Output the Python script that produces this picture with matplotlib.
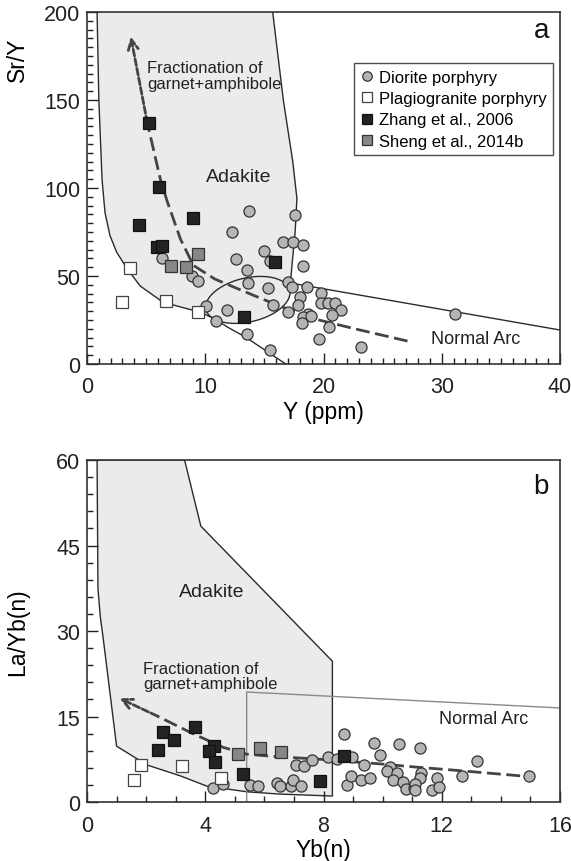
import numpy as np
import matplotlib.pyplot as plt
from matplotlib.ticker import MultipleLocator

plt.rcParams['font.family'] = ['Liberation Sans', 'DejaVu Sans']
plt.rcParams['lines.scale_dashes'] = False

# ---------------- (a) Sr/Y vs Y ----------------
dio_a_y = [6.3, 8.9, 9.4, 10.1, 10.9, 11.8, 12.3, 12.6, 13.5, 13.6, 13.7, 13.5,
           15.0, 15.5, 15.3, 15.7, 15.5, 16.6, 17.4, 18.3, 17.6, 18.3, 17.0, 17.3,
           18.6, 18.0, 17.8, 17.0, 18.7, 18.3, 18.9, 18.2, 19.8, 19.8, 20.4, 21.0,
           21.5, 20.7, 20.5, 19.6, 23.2, 31.1]
dio_a_sry = [60, 50, 47, 33, 24.4, 30.7, 75, 59.7, 53.4, 46, 87, 17,
             64, 58.5, 43, 33.5, 8, 69.3, 69.3, 67.6, 84.7, 55.7, 46.6, 43.8,
             43.8, 38, 33.5, 29.5, 28.4, 26.7, 27.3, 23.3, 40.3, 34.7, 34.7, 34.7,
             30.7, 27.8, 21, 14.2, 9.7, 28.4]
plg_a_y = [3.6, 3.0, 6.7, 9.4]
plg_a_sry = [54.5, 35, 36, 29.5]
zhang_a_y = [5.2, 6.1, 4.4, 9.0, 5.9, 6.35, 15.9, 13.3]
zhang_a_sry = [137, 100.6, 79, 83, 66.5, 67, 58, 26.5]
sheng_a_y = [9.4, 7.1, 8.4]
sheng_a_sry = [62.5, 55.7, 55]

# field boundaries (Defant and Drummond type diagram)
adk_a_left_x = [0.85, 1.0, 1.27, 1.52, 1.94, 2.5, 3.4, 4.5, 6.4, 7.9, 9.55, 10.65,
                12.0, 13.4, 16.8]
adk_a_left_y = [200, 150, 105, 86, 73, 63.6, 54, 44.3, 35.2, 32.4, 29.5, 26.1,
                20.5, 15.3, 0]
adk_a_right_x = [15.7, 16.6, 17.4, 17.75, 17.6, 17.4, 17.2]
adk_a_right_y = [200, 150, 115, 94, 75, 61, 46]
arc_a_x = [17.2, 40]
arc_a_y = [46, 19.3]
# overlap ellipse: centre, semi-axes (in x units) and tilt
ell_cx, ell_cy = 13.6, 36.4
ell_a, ell_b, ell_tilt = 3.63, 1.86, 13

trend_a_x = [27.1, 22.7, 19.0, 16.5, 14.8, 12.8, 10.8, 9.0, 7.9, 6.8, 6.2, 5.1, 3.7]
trend_a_y = [13, 19.9, 26, 32.4, 37, 42.6, 48.3, 56, 71, 92, 105, 137, 186]

# ---------------- (b) La/Yb(n) vs Yb(n) ----------------
dio_b_yb = [4.26, 4.6, 5.5, 5.8, 6.43, 6.53, 6.9, 6.97, 7.24, 7.07, 7.34, 7.6,
            8.16, 8.45, 8.97, 8.7, 8.8, 8.93, 9.27, 9.57, 9.37, 9.7, 9.9, 10.55,
            10.25, 10.15, 10.5, 10.35, 10.7, 10.8, 11.06, 11.27, 11.3, 11.27, 11.1,
            11.1, 11.67, 11.85, 11.9, 12.7, 13.2, 14.95]
dio_b_layb = [2.5, 3.2, 3.0, 2.8, 3.3, 2.8, 2.8, 3.9, 2.8, 6.5, 6.3, 7.4,
              7.9, 7.5, 7.9, 11.9, 3.0, 4.6, 3.9, 4.2, 6.5, 10.4, 8.2, 10.2,
              6.1, 5.4, 5.1, 3.9, 3.5, 2.3, 2.5, 9.5, 5.1, 4.2, 3.2,
              2.1, 2.1, 4.2, 2.6, 4.6, 7.2, 4.6]
plg_b_yb = [1.83, 1.6, 3.2, 4.53]
plg_b_layb = [6.5, 3.9, 6.3, 4.2]
zhang_b_yb = [2.57, 2.94, 3.65, 2.4, 4.3, 4.13, 4.33, 5.28, 7.88, 8.7]
zhang_b_layb = [12.3, 10.9, 13.2, 9.1, 9.8, 8.9, 7.0, 4.9, 3.7, 8.1]
sheng_b_yb = [5.1, 5.85, 6.55]
sheng_b_layb = [8.4, 9.5, 8.8]

adk_b_x = [0.34, 3.3, 3.85, 8.3, 8.3, 6.5, 5.4, 4.05, 3.15, 2.03, 1.0, 0.55, 0.45, 0.37, 0.34]
adk_b_y = [60, 60, 48.4, 24.7, 1.05, 1.4, 1.8, 2.8, 4.6, 6.5, 9.8, 28.6, 32.5, 37.4, 60]
arc_b_x = [5.4, 5.4, 16]
arc_b_y = [0, 19.3, 16.5]

trend_b_x = [14.65, 12.4, 11.2, 9.9, 7.9, 6.3, 5.4, 4.6, 3.5, 2.37, 1.1]
trend_b_y = [4.6, 5.6, 6.1, 6.7, 7.5, 8.0, 8.4, 9.6, 12.2, 15.1, 18.2]

FIELD = '#ebebeb'
EDGE = '#2b2b2b'
dio_style = dict(ls='none', marker='o', ms=8, mfc='#b5b5b5', mec='#333333', mew=0.9)
plg_style = dict(ls='none', marker='s', ms=8, mfc='white', mec='#444444', mew=0.9)
zhang_style = dict(ls='none', marker='s', ms=8, mfc='#232323', mec='#111111', mew=0.9)
sheng_style = dict(ls='none', marker='s', ms=8, mfc='#878787', mec='#333333', mew=0.9)


def trend(ax, xs, ys):
    ax.plot(xs[:-1], ys[:-1], color='#444444', lw=2.0, dashes=(10, 4), zorder=3)
    ax.annotate('', xy=(xs[-1], ys[-1]), xytext=(xs[-2], ys[-2]),
                arrowprops=dict(arrowstyle='->', color='#444444', lw=2.0,
                                mutation_scale=18, shrinkA=0, shrinkB=0,
                                linestyle=(0, (5, 2))), zorder=3)


def style_axes(ax):
    for s in ax.spines.values():
        s.set_color('#333333')
        s.set_linewidth(1.2)
    ax.tick_params(which='both', direction='in', top=False, right=False,
                   colors='#222222', labelsize=15.5, width=1)
    ax.tick_params(which='major', length=8)
    ax.tick_params(which='minor', length=4)
    ax.tick_params(axis='x', which='major', pad=9)
    ax.tick_params(axis='y', which='major', pad=5)


fig = plt.figure(figsize=(5.71, 8.62), dpi=100)
ax1 = fig.add_axes([0.1524, 0.5766, 0.8284, 0.4083])
ax2 = fig.add_axes([0.1524, 0.0684, 0.8284, 0.3968])

# ---- panel a ----
ax1.set_xlim(0, 40)
ax1.set_ylim(0, 200)

# overlap ellipse in screen-proportional units
k = (200 / (0.4083 * 862)) / (40 / (0.8284 * 571))
t = np.linspace(0, 2 * np.pi, 200)
th = np.radians(ell_tilt)
ex = ell_cx + ell_a * np.cos(t) * np.cos(th) - ell_b * np.sin(t) * np.sin(th)
ey = ell_cy + k * (ell_a * np.cos(t) * np.sin(th) + ell_b * np.sin(t) * np.cos(th))

shade_x = adk_a_left_x[:12] + adk_a_right_x[::-1]
shade_y = adk_a_left_y[:12] + adk_a_right_y[::-1]
ax1.fill(shade_x, shade_y, color=FIELD, lw=0, zorder=0)
ax1.fill(ex, ey, color=FIELD, lw=0, zorder=0)
ax1.plot(adk_a_left_x, adk_a_left_y, color=EDGE, lw=1.0, zorder=1)
ax1.plot(adk_a_right_x, adk_a_right_y, color=EDGE, lw=1.0, zorder=1)
ax1.plot(arc_a_x, arc_a_y, color=EDGE, lw=1.0, zorder=1)
ax1.plot(ex, ey, color=EDGE, lw=1.0, zorder=1)

trend(ax1, trend_a_x, trend_a_y)

ax1.plot(dio_a_y, dio_a_sry, label='Diorite porphyry', zorder=4, **dio_style)
ax1.plot(plg_a_y, plg_a_sry, label='Plagiogranite porphyry', zorder=5, **plg_style)
ax1.plot(zhang_a_y, zhang_a_sry, label='Zhang et al., 2006', zorder=5, **zhang_style)
ax1.plot(sheng_a_y, sheng_a_sry, label='Sheng et al., 2014b', zorder=5, **sheng_style)

ax1.text(5.07, 164, 'Fractionation of\ngarnet+amphibole', fontsize=12,
         ha='left', va='center', linespacing=1.05, color='#222222')
ax1.text(12.85, 106.8, 'Adakite', fontsize=14, ha='center', va='center', color='#222222')
ax1.text(32.9, 14.2, 'Normal Arc', fontsize=13, ha='center', va='center', color='#222222')
ax1.text(38.4, 190, 'a', fontsize=20, ha='center', va='center', color='#111111')

leg = ax1.legend(loc='upper right', bbox_to_anchor=(0.985, 0.855), fontsize=12,
                 frameon=True, fancybox=False, edgecolor='#222222',
                 handlelength=0.7, handletextpad=0.35, borderpad=0.4,
                 labelspacing=0.38, markerscale=0.85, borderaxespad=0)
leg.get_frame().set_linewidth(1.0)

ax1.xaxis.set_major_locator(MultipleLocator(10))
ax1.xaxis.set_minor_locator(MultipleLocator(1))
ax1.yaxis.set_major_locator(MultipleLocator(50))
ax1.yaxis.set_minor_locator(MultipleLocator(5))
style_axes(ax1)
ax1.set_xlabel('Y (ppm)', fontsize=16.5, labelpad=2)
ax1.set_ylabel('Sr/Y', fontsize=16.5)
ax1.yaxis.set_label_coords(-0.122, 0.867)

# ---- panel b ----
ax2.set_xlim(0, 16)
ax2.set_ylim(0, 60)

ax2.fill(adk_b_x, adk_b_y, color=FIELD, lw=0, zorder=0)
ax2.plot(adk_b_x, adk_b_y, color=EDGE, lw=1.0, zorder=1)
ax2.plot(arc_b_x, arc_b_y, color='#8a8a8a', lw=1.0, zorder=1)

trend(ax2, trend_b_x, trend_b_y)

ax2.plot(dio_b_yb, dio_b_layb, zorder=4, **dio_style)
ax2.plot(plg_b_yb, plg_b_layb, zorder=5, **plg_style)
ax2.plot(zhang_b_yb, zhang_b_layb, zorder=5, **zhang_style)
ax2.plot(sheng_b_yb, sheng_b_layb, zorder=5, **sheng_style)

ax2.text(1.9, 22.1, 'Fractionation of\ngarnet+amphibole', fontsize=12,
         ha='left', va='center', linespacing=1.05, color='#222222')
ax2.text(4.23, 37, 'Adakite', fontsize=14, ha='center', va='center', color='#222222')
ax2.text(13.4, 14.6, 'Normal Arc', fontsize=13, ha='center', va='center', color='#222222')
ax2.text(15.36, 55.4, 'b', fontsize=20, ha='center', va='center', color='#111111')

ax2.xaxis.set_major_locator(MultipleLocator(4))
ax2.xaxis.set_minor_locator(MultipleLocator(1))
ax2.yaxis.set_major_locator(MultipleLocator(15))
ax2.yaxis.set_minor_locator(MultipleLocator(3))
style_axes(ax2)
ax2.set_xlabel('Yb(n)', fontsize=16.5, labelpad=2)
ax2.set_ylabel('La/Yb(n)', fontsize=16.5)
ax2.yaxis.set_label_coords(-0.122, 0.5)

fig.savefig('out.png', dpi=100)
